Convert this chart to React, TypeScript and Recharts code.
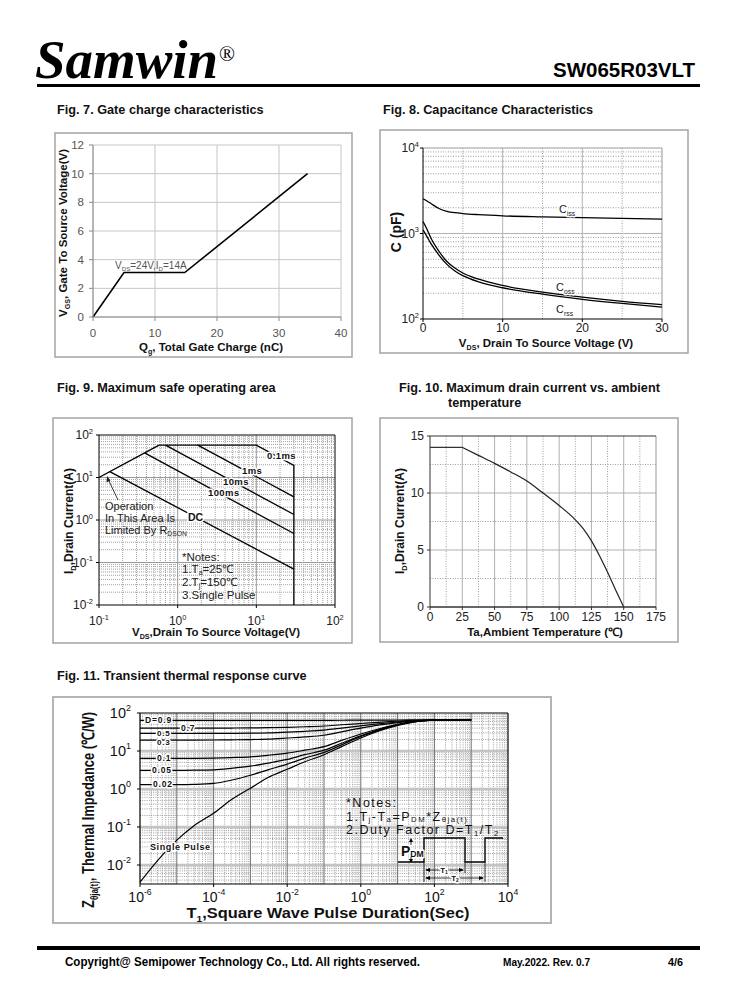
import React from 'react';
import { LineChart, Line, XAxis, YAxis, CartesianGrid, ReferenceLine } from 'recharts';

const SANS = '"Liberation Sans", Arial, Helvetica, sans-serif';
const SERIF = '"Liberation Serif", "Times New Roman", serif';

// ---------- Fig. 7 Gate charge ----------
const gateChargeNc = [0, 5, 14.8, 34.6];
const gateVgs = [0, 3.1, 3.1, 10];
const gateXTicks = [0, 10, 20, 30, 40];
const gateYTicks = [0, 2, 4, 6, 8, 10, 12];

// ---------- Fig. 8 Capacitance ----------
const capVds = [0, 0.5, 1, 2, 3, 4, 5, 7, 10, 15, 20, 25, 30];
const capCiss = [2550, 2400, 2240, 1960, 1820, 1750, 1710, 1660, 1610, 1565, 1530, 1500, 1470];
const capCoss = [1380, 1120, 880, 620, 470, 395, 345, 292, 247, 206, 180, 161, 147];
const capCrss = [1100, 920, 760, 560, 435, 365, 322, 272, 232, 195, 170, 152, 138];
const capXTicks = [0, 10, 20, 30];
const capYTicks = [100, 1000, 10000];

// ---------- Fig. 9 SOA ----------
const soaRdsonV = [0.1, 0.58];
const soaRdsonI = [10, 58];
const soa01msV = [0.58, 10, 30, 30];
const soa01msI = [58, 58, 19.3, 0.01];
const soa1msV = [1.8, 30];
const soa1msI = [58, 3.5];
const soa10msV = [0.7, 30];
const soa10msI = [58, 1.35];
const soa100msV = [0.38, 30];
const soa100msI = [38, 0.48];
const soaDcV = [0.137, 30];
const soaDcI = [13.7, 0.07];
const soaXTicks = [0.1, 1, 10, 100];
const soaYTicks = [0.01, 0.1, 1, 10, 100];

// ---------- Fig. 10 Drain current vs ambient ----------
const ambTemp = [0, 25, 37.5, 50, 62.5, 75, 87.5, 100, 112.5, 118.75, 125, 131.25, 137.5, 143.75, 150];
const ambCurrent = [14, 14, 13.3, 12.6, 11.85, 11.05, 10.0, 8.9, 7.65, 6.85, 5.8, 4.5, 3.05, 1.5, 0];
const ambXTicks = [0, 25, 50, 75, 100, 125, 150, 175];
const ambYTicks = [0, 5, 10, 15];

// ---------- Fig. 11 Transient thermal ----------
const thermT = [1e-6, 3e-6, 1e-5, 3e-5, 1e-4, 3e-4, 1e-3, 3e-3, 1e-2, 3e-2, 1e-1, 3e-1, 1, 3, 10, 30, 100, 300, 1000];
const zD09 = [64, 64, 64, 64, 64, 64, 64, 64, 64, 64, 64, 64.5, 65, 65, 65.5, 66, 66, 66, 66];
const zD07 = [40, 40, 40, 40, 40, 40.2, 40.5, 41, 42, 43.5, 45.5, 49, 53, 57, 61, 64, 65.5, 66, 66];
const zD05 = [29, 29, 29, 29, 29, 29.2, 29.5, 30, 31.5, 33, 35.5, 40, 46, 52, 58, 63, 65.5, 66, 66];
const zD03 = [19.4, 19.4, 19.4, 19.4, 19.5, 19.7, 20, 20.6, 22, 23.5, 26, 32, 40, 48, 56, 62, 65.5, 66, 66];
const zD01 = [6.4, 6.4, 6.4, 6.42, 6.5, 6.7, 7, 7.7, 8.8, 10.5, 13, 19, 28, 38, 50, 60, 65, 66, 66];
const zD005 = [3.1, 3.1, 3.1, 3.12, 3.2, 3.5, 4, 4.8, 6, 8, 10.5, 16, 25, 36, 49, 59.5, 65, 66, 66];
const zD002 = [1.3, 1.3, 1.3, 1.32, 1.4, 1.7, 2.3, 3.2, 4.5, 6.5, 9.2, 14.5, 24, 35, 48, 59, 65, 66, 66];
const zSingle = [0.0035, 0.013, 0.045, 0.11, 0.23, 0.52, 1.05, 2.0, 3.3, 5.2, 8, 13, 22, 33, 47, 58.5, 64.5, 66, 66];
const thermXTicks = [1e-6, 1e-4, 1e-2, 1, 1e2, 1e4];
const thermYTicks = [0.01, 0.1, 1, 10, 100];
const thermYMin = Math.pow(10, -2.5);

// ---------- helpers ----------
const pts = (xs: number[], ys: number[]) => xs.map((x, i) => ({ x, y: ys[i] }));

const logMinor = (lo: number, hi: number, min: number, max: number) => {
  const out: number[] = [];
  for (let e = lo; e < hi; e++) {
    for (let m = 2; m <= 9; m++) {
      const v = m * Math.pow(10, e);
      if (v > min * 1.0001 && v < max * 0.9999) out.push(v);
    }
  }
  return out;
};

const vLines = (vals: number[], stroke: string, dash?: string, w = 1, k = 'v') =>
  vals.map((v) => (
    <ReferenceLine key={`${k}${v}`} x={v} stroke={stroke} strokeDasharray={dash} strokeWidth={w} />
  ));
const hLines = (vals: number[], stroke: string, dash?: string, w = 1, k = 'h') =>
  vals.map((v) => (
    <ReferenceLine key={`${k}${v}`} y={v} stroke={stroke} strokeDasharray={dash} strokeWidth={w} />
  ));

type TickOpts = { dx: number; dy: number; anchor: string; size: number; fill: string };

const linTick = (o: TickOpts) => (p: any) => (
  <text x={p.x + o.dx} y={p.y + o.dy} textAnchor={o.anchor} fontFamily={SANS} fontSize={o.size} fill={o.fill}>
    {p.payload.value}
  </text>
);

const logTick = (o: TickOpts) => (p: any) => {
  const e = Math.round(Math.log10(p.payload.value));
  return (
    <text x={p.x + o.dx} y={p.y + o.dy} textAnchor={o.anchor} fontFamily={SANS} fontSize={o.size} fill={o.fill}>
      <tspan>10</tspan>
      <tspan dy={-o.size * 0.45} fontSize={o.size * 0.62}>
        {String(e)}
      </tspan>
    </text>
  );
};

type Part = string | [string, 'sub' | 'sup'];

function Txt(props: {
  x: number;
  y: number;
  size: number;
  parts: Part[];
  bold?: boolean;
  anchor?: string;
  fill?: string;
  rot?: boolean;
  len?: number;
  ls?: number;
  halo?: boolean;
  family?: string;
  italic?: boolean;
  sub?: number;
}) {
  const { x, y, size, parts, bold, anchor = 'start', fill = '#111', rot, len, ls, halo, family = SANS, italic, sub = 0.26 } = props;
  let cur = 0;
  const kids = parts.map((p, i) => {
    const t = typeof p === 'string' ? p : p[0];
    const k = typeof p === 'string' ? undefined : p[1];
    const target = k === 'sub' ? size * sub : k === 'sup' ? -size * 0.42 : 0;
    const dy = target - cur;
    cur = target;
    return (
      <tspan key={i} dy={dy} fontSize={k ? size * 0.62 : size}>
        {t}
      </tspan>
    );
  });
  return (
    <text
      x={rot ? 0 : x}
      y={rot ? 0 : y}
      transform={rot ? `translate(${x},${y}) rotate(-90)` : undefined}
      textAnchor={anchor}
      fontFamily={family}
      fontSize={size}
      fontWeight={bold ? 'bold' : 'normal'}
      fontStyle={italic ? 'italic' : 'normal'}
      fill={fill}
      letterSpacing={ls}
      textLength={len}
      lengthAdjust={len ? 'spacingAndGlyphs' : undefined}
      stroke={halo ? '#fff' : undefined}
      strokeWidth={halo ? 3 : undefined}
      paintOrder={halo ? 'stroke' : undefined}
      strokeLinejoin="round"
    >
      {kids}
    </text>
  );
}

const lineProps = {
  dataKey: 'y',
  stroke: '#000',
  dot: false,
  activeDot: false,
  isAnimationActive: false,
  strokeWidth: 1.3,
};

// ---------- Fig. 7 ----------
function Fig7() {
  const data = pts(gateChargeNc, gateVgs);
  return (
    <div style={{ position: 'absolute', left: 55, top: 133 }}>
      <LineChart width={297} height={224} margin={{ top: 12, right: 11, bottom: 15, left: 8 }}>
        <CartesianGrid stroke="#c6c6c6" />
        <XAxis
          type="number"
          dataKey="x"
          domain={[0, 40]}
          ticks={gateXTicks}
          interval={0}
          height={25}
          axisLine={{ stroke: '#8a8a8a' }}
          tickLine={{ stroke: '#8a8a8a' }}
          tickSize={4}
          tickMargin={2}
          tick={linTick({ dx: 0, dy: 14, anchor: 'middle', size: 11.5, fill: '#555' })}
        />
        <YAxis
          type="number"
          domain={[0, 12]}
          ticks={gateYTicks}
          interval={0}
          width={30}
          axisLine={{ stroke: '#8a8a8a' }}
          tickLine={{ stroke: '#8a8a8a' }}
          tickSize={4}
          tickMargin={2}
          tick={linTick({ dx: -3, dy: 4, anchor: 'end', size: 11.5, fill: '#555' })}
        />
        <Line {...lineProps} data={data} type="linear" strokeWidth={1.6} />
      </LineChart>
    </div>
  );
}

// ---------- Fig. 8 ----------
function Fig8() {
  const minorY = logMinor(2, 4, 100, 10000);
  return (
    <div style={{ position: 'absolute', left: 380, top: 130 }}>
      <LineChart width={308} height={223} margin={{ top: 18, right: 26, bottom: 12, left: 8 }}>
        {hLines(minorY, '#9c9c9c', '1 1.5', 1, 'hm')}
        {vLines([5, 15, 25], '#9c9c9c', '1 1.5', 1, 'vm')}
        {vLines([10, 20], '#b4b4b4', undefined, 1, 'vM')}
        {hLines([1000], '#b4b4b4', undefined, 1.2, 'hM')}
        {vLines([30], '#999', undefined, 1, 'vE')}
        {hLines([10000], '#999', undefined, 1, 'hE')}
        <XAxis
          type="number"
          dataKey="x"
          domain={[0, 30]}
          ticks={capXTicks}
          interval={0}
          height={22}
          axisLine={{ stroke: '#000' }}
          tickLine={{ stroke: '#000' }}
          tickSize={3}
          tickMargin={2}
          tick={linTick({ dx: 0, dy: 8, anchor: 'middle', size: 12, fill: '#222' })}
        />
        <YAxis
          type="number"
          scale="log"
          domain={[100, 10000]}
          allowDataOverflow
          ticks={capYTicks}
          interval={0}
          width={35}
          axisLine={{ stroke: '#000' }}
          tickLine={{ stroke: '#000' }}
          tickSize={3}
          tickMargin={2}
          tick={logTick({ dx: 1, dy: 4, anchor: 'end', size: 12, fill: '#222' })}
        />
        <Line {...lineProps} data={pts(capVds, capCiss)} type="monotone" />
        <Line {...lineProps} data={pts(capVds, capCoss)} type="monotone" />
        <Line {...lineProps} data={pts(capVds, capCrss)} type="monotone" />
      </LineChart>
    </div>
  );
}

// ---------- Fig. 9 ----------
function Fig9() {
  const minorX = logMinor(-1, 2, 0.1, 100);
  const minorY = logMinor(-2, 2, 0.01, 100);
  return (
    <div style={{ position: 'absolute', left: 53, top: 418 }}>
      <LineChart width={299} height={225} margin={{ top: 17, right: 17, bottom: 16, left: 8 }}>
        {vLines(minorX, '#a2a2a2', '1 1', 1, 'vm')}
        {hLines(minorY, '#a2a2a2', '1 1', 1, 'hm')}
        {vLines([1, 10], '#9a9a9a', undefined, 1, 'vM')}
        {hLines([0.1, 1, 10], '#9a9a9a', undefined, 1, 'hM')}
        {vLines([100], '#000', undefined, 1, 'vE')}
        {hLines([100], '#000', undefined, 1, 'hE')}
        <XAxis
          type="number"
          dataKey="x"
          scale="log"
          domain={[0.1, 100]}
          allowDataOverflow
          ticks={soaXTicks}
          interval={0}
          height={22}
          axisLine={{ stroke: '#000' }}
          tickLine={{ stroke: '#000' }}
          tickSize={3}
          tickMargin={2}
          tick={logTick({ dx: 0, dy: 15, anchor: 'middle', size: 12, fill: '#222' })}
        />
        <YAxis
          type="number"
          scale="log"
          domain={[0.01, 100]}
          allowDataOverflow
          ticks={soaYTicks}
          interval={0}
          width={38}
          axisLine={{ stroke: '#000' }}
          tickLine={{ stroke: '#000' }}
          tickSize={3}
          tickMargin={2}
          tick={logTick({ dx: -1, dy: 4, anchor: 'end', size: 12, fill: '#222' })}
        />
        <Line {...lineProps} data={pts(soaRdsonV, soaRdsonI)} type="linear" />
        <Line {...lineProps} data={pts(soa01msV, soa01msI)} type="linear" />
        <Line {...lineProps} data={pts(soa1msV, soa1msI)} type="linear" />
        <Line {...lineProps} data={pts(soa10msV, soa10msI)} type="linear" />
        <Line {...lineProps} data={pts(soa100msV, soa100msI)} type="linear" />
        <Line {...lineProps} data={pts(soaDcV, soaDcI)} type="linear" />
      </LineChart>
    </div>
  );
}

// ---------- Fig. 10 ----------
function Fig10() {
  const all = pts(ambTemp, ambCurrent);
  return (
    <div style={{ position: 'absolute', left: 380, top: 418 }}>
      <LineChart width={298} height={224} margin={{ top: 18, right: 22, bottom: 13, left: 8 }}>
        {vLines([12.5, 37.5, 62.5, 87.5, 112.5, 137.5, 162.5], '#9c9c9c', '1 1.5', 1, 'vm')}
        {hLines([2.5, 7.5, 12.5], '#9c9c9c', '1 1.5', 1, 'hm')}
        {vLines([25, 50, 75, 100, 125, 150], '#b0b0b0', undefined, 1, 'vM')}
        {hLines([5, 10], '#b0b0b0', undefined, 1.2, 'hM')}
        {vLines([175], '#999', undefined, 1, 'vE')}
        {hLines([15], '#333', undefined, 1, 'hE')}
        <XAxis
          type="number"
          dataKey="x"
          domain={[0, 175]}
          ticks={ambXTicks}
          interval={0}
          height={22}
          axisLine={{ stroke: '#333', strokeWidth: 1.6 }}
          tickLine={{ stroke: '#333' }}
          tickSize={3}
          tickMargin={2}
          tick={linTick({ dx: 0, dy: 9, anchor: 'middle', size: 12, fill: '#222' })}
        />
        <YAxis
          type="number"
          domain={[0, 15]}
          ticks={ambYTicks}
          interval={0}
          width={42}
          axisLine={{ stroke: '#333' }}
          tickLine={{ stroke: '#333' }}
          tickSize={3}
          tickMargin={2}
          tick={linTick({ dx: -1, dy: 4, anchor: 'end', size: 12, fill: '#222' })}
        />
        <Line {...lineProps} data={all.slice(0, 2)} type="linear" stroke="#333" strokeWidth={1.4} />
        <Line {...lineProps} data={all.slice(1)} type="monotone" stroke="#222" strokeWidth={1.2} />
      </LineChart>
    </div>
  );
}

// ---------- Fig. 11 ----------
function Fig11() {
  const minorX = logMinor(-6, 4, 1e-6, 1e4);
  const minorY = logMinor(-3, 2, thermYMin, 100);
  const majorX = [1e-5, 1e-4, 1e-3, 1e-2, 1e-1, 1, 10, 100, 1000];
  const series = [zD09, zD07, zD05, zD03, zD01, zD005, zD002, zSingle];
  return (
    <div style={{ position: 'absolute', left: 53, top: 697 }}>
      <LineChart width={498} height={226} margin={{ top: 16, right: 43, bottom: 17, left: 27 }}>
        {vLines(minorX, '#9e9e9e', '1 1.2', 1, 'vm')}
        {hLines(minorY, '#9e9e9e', '1 1.2', 1, 'hm')}
        {hLines([0.01, 0.1, 1, 10], '#c4c4c4', undefined, 2.5, 'hM')}
        {vLines(majorX, '#707070', undefined, 1, 'vM')}
        {vLines([1e4], '#000', undefined, 1.2, 'vE')}
        {hLines([100], '#000', undefined, 1.2, 'hE')}
        <XAxis
          type="number"
          dataKey="x"
          scale="log"
          domain={[1e-6, 1e4]}
          allowDataOverflow
          ticks={thermXTicks}
          interval={0}
          height={22}
          axisLine={{ stroke: '#000', strokeWidth: 1.2 }}
          tickLine={{ stroke: '#000' }}
          tickSize={3}
          tickMargin={2}
          tick={logTick({ dx: 0, dy: 12.5, anchor: 'middle', size: 14, fill: '#111' })}
        />
        <YAxis
          type="number"
          scale="log"
          domain={[thermYMin, 100]}
          allowDataOverflow
          ticks={thermYTicks}
          interval={0}
          width={60}
          axisLine={{ stroke: '#000', strokeWidth: 1.2 }}
          tickLine={{ stroke: '#000' }}
          tickSize={3}
          tickMargin={2}
          tick={logTick({ dx: -4, dy: 5, anchor: 'end', size: 14.5, fill: '#111' })}
        />
        {series.map((s, i) => (
          <Line key={i} {...lineProps} data={pts(thermT, s)} type="monotone" strokeWidth={1.2} />
        ))}
      </LineChart>
    </div>
  );
}

// ---------- Overlay: page texts & annotations ----------
function Overlay() {
  const box = { fill: 'none', stroke: '#a4a4a4', strokeWidth: 1.5 };
  return (
    <svg
      width={738}
      height={1000}
      style={{ position: 'absolute', left: 0, top: 0, pointerEvents: 'none', zIndex: 5 }}
    >
      {/* header */}
      <Txt x={35} y={78} size={55} bold italic family={SERIF} fill="#000" len={183} parts={['Samwin']} />
      <Txt x={219} y={61} size={21} family={SERIF} fill="#000" parts={['®']} />
      <Txt x={553} y={77} size={20} bold fill="#000" len={142} parts={['SW065R03VLT']} />
      <rect x={37} y={84} width={663} height={3} fill="#000" />

      {/* boxes */}
      <rect x={55} y={133} width={297} height={224} {...box} />
      <rect x={380} y={130} width={308} height={223} {...box} />
      <rect x={53} y={418} width={299} height={225} {...box} />
      <rect x={380} y={418} width={298} height={224} {...box} />
      <rect x={53} y={697} width={498} height={226} {...box} strokeWidth={2} stroke="#b4b4b4" />

      {/* titles */}
      <Txt x={57} y={114} size={12.7} bold parts={['Fig. 7. Gate charge characteristics']} />
      <Txt x={383} y={114} size={12.7} bold parts={['Fig. 8. Capacitance Characteristics']} />
      <Txt x={57} y={392} size={12.7} bold parts={['Fig. 9. Maximum safe operating area']} />
      <Txt x={399} y={392} size={12.7} bold parts={['Fig. 10. Maximum drain current vs. ambient']} />
      <Txt x={448} y={407} size={12.7} bold parts={['temperature']} />
      <Txt x={57} y={680} size={12.7} bold parts={['Fig. 11. Transient thermal response curve']} />

      {/* Fig 7 labels */}
      <Txt x={67} y={233} size={11} bold rot anchor="middle" len={168} parts={['V', ['GS', 'sub'], ',  Gate To  Source Voltage(V)']} />
      <Txt x={211} y={351} size={11.5} bold anchor="middle" parts={['Q', ['g', 'sub'], ', Total Gate Charge (nC)']} />
      <Txt x={115} y={269} size={10} fill="#555" sub={0.2} parts={['V', ['DS', 'sub'], '=24V,I', ['D', 'sub'], '=14A']} />

      {/* Fig 8 labels */}
      <Txt x={401} y={232} size={14} bold rot anchor="middle" parts={['C (pF)']} />
      <Txt x={546} y={347} size={11.5} bold anchor="middle" parts={['V', ['DS', 'sub'], ', Drain To Source Voltage (V)']} />
      <Txt x={559} y={213} size={11} halo fill="#222" parts={['C', ['iss', 'sub']]} />
      <Txt x={556} y={291} size={11} halo fill="#222" parts={['C', ['oss', 'sub']]} />
      <Txt x={556} y={313} size={11} halo fill="#222" parts={['C', ['rss', 'sub']]} />

      {/* Fig 9 labels */}
      <Txt x={73} y={521} size={12} bold rot anchor="middle" parts={['I', ['D', 'sub'], ',Drain Current(A)']} />
      <Txt x={216} y={636} size={11.5} bold anchor="middle" parts={['V', ['DS', 'sub'], ',Drain To Source Voltage(V)']} />
      <Txt x={267} y={459} size={9.5} bold halo ls={0.4} parts={['0.1ms']} />
      <Txt x={242} y={474} size={9.5} bold halo ls={0.4} parts={['1ms']} />
      <Txt x={223} y={485} size={9.5} bold halo ls={0.4} parts={['10ms']} />
      <Txt x={208} y={496} size={9.5} bold halo ls={0.4} parts={['100ms']} />
      <Txt x={188} y={521} size={10.5} bold halo parts={['DC']} />
      <Txt x={105} y={510} size={11} fill="#222" parts={['Operation']} />
      <Txt x={105} y={522} size={11} fill="#222" parts={['In This Area Is']} />
      <Txt x={105} y={534} size={11} fill="#222" sub={0.15} parts={['Limited By R', ['DSON', 'sub']]} />
      <Txt x={182} y={561} size={11.5} fill="#222" parts={['*Notes:']} />
      <Txt x={182} y={573} size={11.5} fill="#222" sub={0.15} parts={['1.T', ['a', 'sub'], '=25℃']} />
      <Txt x={182} y={586} size={11.5} fill="#222" sub={0.15} parts={['2.T', ['j', 'sub'], '=150℃']} />
      <Txt x={182} y={599} size={11.5} fill="#222" parts={['3.Single Pulse']} />
      <line x1={118} y1={500} x2={108.5} y2={480} stroke="#222" strokeWidth={0.9} />
      <path d="M107 476 L106.5 482.5 L110.5 480.5 Z" fill="#222" />

      {/* Fig 10 labels */}
      <Txt x={404} y={521} size={12} bold rot anchor="middle" parts={['I', ['D', 'sub'], ',Drain Current(A)']} />
      <Txt x={545} y={636} size={11.5} bold anchor="middle" parts={['Ta,Ambient Temperature (℃)']} />

      {/* Fig 11 labels */}
      <Txt x={94} y={810} size={17} bold rot anchor="middle" len={196} parts={['Z', ['θja(t)', 'sub'], ', Thermal  Impedance (℃/W)']} />
      <Txt x={328} y={918} size={14} bold anchor="middle" len={283} parts={['T', ['1', 'sub'], ',Square Wave Pulse Duration(Sec)']} />
      <Txt x={145} y={723} size={8.5} bold halo ls={0.8} parts={['D=0.9']} />
      <Txt x={181} y={731} size={8.5} bold halo ls={0.8} parts={['0.7']} />
      <Txt x={157} y={735.5} size={8} bold halo ls={0.8} parts={['0.5']} />
      <Txt x={157} y={744.5} size={8} bold halo ls={0.8} parts={['0.3']} />
      <Txt x={157} y={761} size={8.5} bold halo ls={0.8} parts={['0.1']} />
      <Txt x={152} y={773} size={8.5} bold halo ls={0.8} parts={['0.05']} />
      <Txt x={153} y={787} size={8.5} bold halo ls={0.8} parts={['0.02']} />
      <Txt x={150} y={850} size={9} bold halo ls={0.6} parts={['Single Pulse']} />
      <Txt x={346} y={807} size={12.5} fill="#111" ls={1.5} parts={['*Notes:']} />
      <Txt x={346} y={820.5} size={12.5} fill="#111" ls={1.5} sub={0.12} parts={['1.T', ['j', 'sub'], '-T', ['a', 'sub'], '=P', ['DM', 'sub'], '*Z', ['θja(t)', 'sub']]} />
      <Txt x={346} y={834} size={12.5} fill="#111" ls={1.5} sub={0.12} parts={['2.Duty Factor D=T', ['1', 'sub'], '/T', ['2', 'sub']]} />
      <path d="M398 862 H424 V838 H465 V862 H485 V838 H503" fill="none" stroke="#000" strokeWidth={1.4} />
      <Txt x={401} y={856} size={14} bold halo sub={0.1} parts={['P', ['DM', 'sub']]} />
      <line x1={411} y1={839} x2={411} y2={845} stroke="#000" strokeWidth={0.8} />
      <path d="M411 838 L409 842 L413 842 Z" fill="#000" />
      <line x1={411} y1={857} x2={411} y2={862} stroke="#000" strokeWidth={0.8} />
      <path d="M411 863 L409 859 L413 859 Z" fill="#000" />
      <line x1={424} y1={862} x2={424} y2={882} stroke="#000" strokeWidth={0.8} />
      <line x1={465} y1={862} x2={465} y2={873} stroke="#000" strokeWidth={0.8} />
      <line x1={485} y1={862} x2={485} y2={882} stroke="#000" strokeWidth={0.8} />
      <line x1={426} y1={870} x2={463} y2={870} stroke="#000" strokeWidth={0.8} />
      <path d="M425 870 L430 868 L430 872 Z M464 870 L459 868 L459 872 Z" fill="#000" />
      <line x1={426} y1={878} x2={483} y2={878} stroke="#000" strokeWidth={0.8} />
      <path d="M425 878 L430 876 L430 880 Z M484 878 L479 876 L479 880 Z" fill="#000" />
      <Txt x={444} y={873} size={8} bold halo anchor="middle" sub={0.1} parts={['T', ['1', 'sub']]} />
      <Txt x={455} y={881} size={8} bold halo anchor="middle" sub={0.1} parts={['T', ['2', 'sub']]} />

      {/* footer */}
      <rect x={37} y={946} width={663} height={4} fill="#000" />
      <Txt x={65} y={966} size={12.5} bold fill="#000" len={355} parts={['Copyright@ Semipower Technology Co., Ltd. All rights reserved.']} />
      <Txt x={503} y={966} size={11.5} bold fill="#000" len={87} parts={['May.2022. Rev. 0.7']} />
      <Txt x={668} y={966} size={11.5} bold fill="#000" len={15} parts={['4/6']} />
    </svg>
  );
}

export default function App() {
  return (
    <div
      style={{
        position: 'absolute',
        left: 0,
        top: 0,
        width: 738,
        height: 1000,
        background: '#fff',
        overflow: 'hidden',
      }}
    >
      <Fig7 />
      <Fig8 />
      <Fig9 />
      <Fig10 />
      <Fig11 />
      <Overlay />
    </div>
  );
}
